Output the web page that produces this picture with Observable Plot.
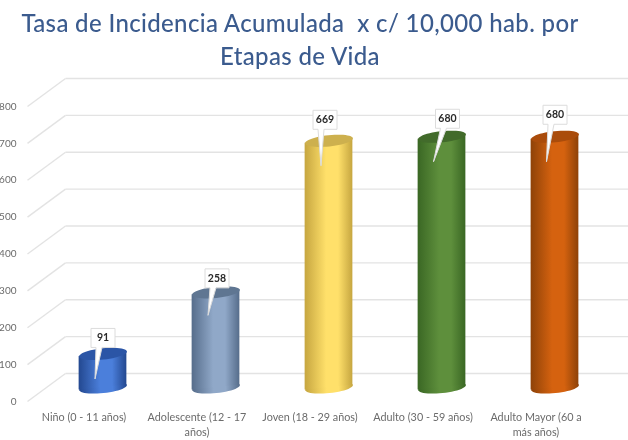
<!DOCTYPE html>
<html>
<head>
<meta charset="utf-8">
<script src="https://cdn.jsdelivr.net/npm/d3@7"></script>
<script src="https://cdn.jsdelivr.net/npm/@observablehq/plot@0.6"></script>
<style>
  html, body { margin: 0; padding: 0; background: #fff; overflow: hidden; }
  #page { width: 628px; height: 440px; position: relative; }
  #title { height: 70px; box-sizing: border-box; padding-top: 6px; width: 600px; text-align: center;
    font: 500 24px/33px Lato, sans-serif; color: #3b5b8e; letter-spacing: 0.35px; filter: blur(0.6px); }
  svg { display: block; filter: blur(0.7px); }
</style>
</head>
<body>
<div id="page">
  <div id="title">Tasa de Incidencia Acumulada &nbsp;x c/ 10,000 hab. por<br>Etapas de Vida</div>
  <div id="chart"></div>
</div>
<script>
const categories = ["Niño (0 - 11 años)", "Adolescente (12 - 17\naños)", "Joven (18 - 29 años)", "Adulto (30 - 59 años)", "Adulto Mayor (60 a\nmás años)"];
const values = [91, 258, 669, 680, 680];
const yTicks = [0, 100, 200, 300, 400, 500, 600, 700, 800];

// Styling tables (not data)
const edgeColors = ["#234890", "#566d8b", "#c6a640", "#3a6724", "#8e4208"];
const midColors = ["#4b7fdb", "#90a8c8", "#ffe06a", "#5e8f3c", "#d5620f"];
const capColors = ["#2b55a6", "#5f7692", "#cdb04e", "#426b2b", "#aa4c0b"];
const calloutOffsets = [[0, -16, -8, 25], [1, -14, -8, 23], [-4, -21, -8, 25], [5.5, -18, -8.5, 25], [0, -22, -8.5, 25]];

const depthDx = 38, depthDy = 28;         // px, floor depth
const barDx = 19, barDy = -14;            // px, cylinder sits mid-floor
const pxPerX = 113, pxPerY = 295 / 800;
const halfW = 24, capB = 5.6, tilt = -6 * Math.PI / 180;

const ellipse = {
  draw(ctx) {
    for (let k = 0; k <= 48; k++) {
      const t = k / 48 * 2 * Math.PI;
      const x = halfW * Math.cos(t) * Math.cos(tilt) - capB * Math.sin(t) * Math.sin(tilt);
      const y = halfW * Math.cos(t) * Math.sin(tilt) + capB * Math.sin(t) * Math.cos(tilt);
      k ? ctx.lineTo(x, y) : ctx.moveTo(x, y);
    }
    ctx.closePath();
  }
};

const callout = ([bx, by, tx, ty]) => ({
  draw(ctx) {
    const w = 12, h = 9.5, l = bx - w, r = bx + w, t = by - h, b = by + h;
    ctx.moveTo(l, t);
    ctx.lineTo(r, t);
    ctx.lineTo(r, b);
    ctx.lineTo(l + 11, b);
    ctx.lineTo(tx, ty);
    ctx.lineTo(l + 5, b);
    ctx.lineTo(l, b);
    ctx.closePath();
  }
});

const idx = values.map((_, i) => i);
const depthY = depthDy / pxPerY, depthX = depthDx / pxPerX;
const tiltY = halfW * Math.sin(-tilt) / pxPerY, halfX = halfW * Math.cos(tilt) / pxPerX;

const barMarks = idx.flatMap((i) => {
  const v = values[i];
  const body = [
    {x: i - halfX, y1: -tiltY, y2: v - tiltY},
    {x: i + halfX, y1: tiltY, y2: v + tiltY}
  ];
  const at = {dx: barDx, dy: barDy};
  return [
    Plot.dot([i], {x: (d) => d, y: () => 0, r: 1, symbol: ellipse, fill: `url(#cyl${i})`, stroke: "none", ...at}),
    Plot.area(body, {x1: "x", y1: "y1", y2: "y2", fill: `url(#cyl${i})`, ...at}),
    Plot.dot([i], {x: (d) => d, y: () => v, r: 1, symbol: ellipse, fill: capColors[i], stroke: "none", ...at})
  ];
});

const calloutMarks = idx.flatMap((i) => {
  const o = calloutOffsets[i];
  return [
    Plot.dot([i], {x: (d) => d, y: () => values[i], r: 1, symbol: callout(o), fill: "#fff", stroke: "#dcdcdc", strokeWidth: 1, dx: barDx, dy: barDy}),
    Plot.text([i], {x: (d) => d, y: () => values[i], text: () => String(values[i]), fontSize: 10.5, fontWeight: 700, fill: "#2a2a2a", dx: barDx + o[0], dy: barDy + o[1] })
  ];
});

const chart = Plot.plot({
  width: 628,
  height: 370,
  marginLeft: 27,
  marginRight: 36,
  marginTop: 36,
  marginBottom: 39,
  style: {fontFamily: "Lato, sans-serif", background: "#fff"},
  x: {domain: [-0.5, 4.5], label: null},
  y: {domain: [0, 800], label: null},
  marks: [
    Plot.link(yTicks, {x1: () => -0.5, y1: (d) => d, x2: () => -0.5 + depthX, y2: (d) => d + depthY, stroke: "#e3e3e3", strokeWidth: 1.4}),
    Plot.link(yTicks, {x1: () => -0.5 + depthX, y1: (d) => d + depthY, x2: () => 4.5 + depthX, y2: (d) => d + depthY, stroke: "#e3e3e3", strokeWidth: 1.4}),
    ...barMarks,
    ...calloutMarks,
    Plot.axisY({ticks: yTicks, tickSize: 0, tickPadding: 11, fontSize: 10, color: "#6b6b6b", label: null}),
    Plot.axisX({ticks: idx, tickSize: 0, tickPadding: 10, fontSize: 10.8, color: "#6b6b6b", label: null, lineHeight: 1.3, tickFormat: (i) => categories[i]})
  ]
});

const defs = d3.select(chart).insert("defs", ":first-child");
idx.forEach((i) => {
  const g = defs.append("linearGradient").attr("id", `cyl${i}`).attr("x1", 0).attr("x2", 1).attr("y1", 0).attr("y2", 0);
  g.append("stop").attr("offset", "0%").attr("stop-color", edgeColors[i]);
  g.append("stop").attr("offset", "45%").attr("stop-color", midColors[i]);
  g.append("stop").attr("offset", "70%").attr("stop-color", midColors[i]);
  g.append("stop").attr("offset", "100%").attr("stop-color", edgeColors[i]);
});
document.getElementById("chart").appendChild(chart);
</script>
</body>
</html>
